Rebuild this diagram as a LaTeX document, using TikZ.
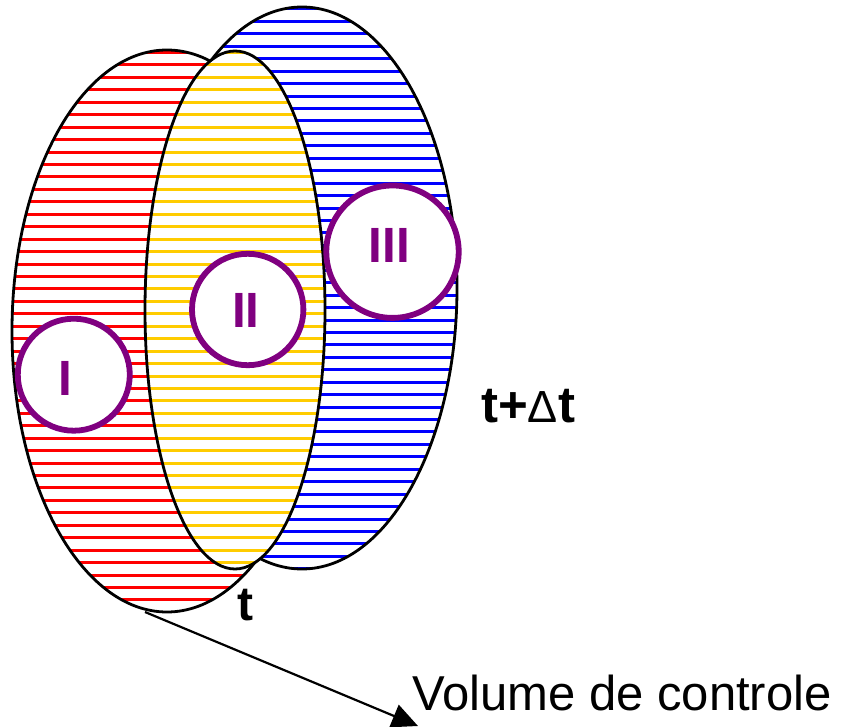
\documentclass[tikz,border=0pt]{standalone}
\usepackage{fontspec}
\setmainfont{Liberation Sans}
\usetikzlibrary{arrows.meta}
\definecolor{hyellow}{HTML}{FFCC00}
\definecolor{hpurple}{HTML}{800080}
\begin{document}
\begin{tikzpicture}[x=1pt,y=-1pt,
  outline/.style={draw=black,line width=2.8pt},
  hatch/.style={line width=3pt},
  ring/.style={draw=hpurple,line width=5.8pt,fill=white,circle,inner sep=0pt},
  numeral/.style={text=hpurple,font=\fontsize{49.5}{55}\selectfont\bfseries,inner sep=0pt},
  lbl/.style={inner sep=0pt,font=\fontsize{48}{55}\selectfont\bfseries}]
\path[use as bounding box, clip] (0,0) rectangle (843,727);
% blue ellipse (t + Delta t)
\fill[white] (302,288) ellipse [x radius=155, y radius=281];
\begin{scope}
  \clip (302,288) ellipse [x radius=155, y radius=281];
  \foreach \k in {-6,...,46} \draw[hatch,blue] (140,{71.2+12.44*\k}) -- (470,{71.2+12.44*\k});
\end{scope}
\draw[outline] (302,288) ellipse [x radius=155, y radius=281];
% red ellipse (t)
\fill[white] (167,331) ellipse [x radius=155, y radius=281];
\begin{scope}
  \clip (167,331) ellipse [x radius=155, y radius=281];
  \foreach \k in {-3,...,46} \draw[hatch,red] (0,{65+12.44*\k}) -- (330,{65+12.44*\k});
\end{scope}
\draw[outline] (167,331) ellipse [x radius=155, y radius=281];
% yellow ellipse (overlap)
\fill[white] (235,310) ellipse [x radius=90, y radius=259];
\begin{scope}
  \clip (235,310) ellipse [x radius=90, y radius=259];
  \foreach \k in {-3,...,43} \draw[hatch,hyellow] (140,{65+12.44*\k}) -- (330,{65+12.44*\k});
\end{scope}
\draw[outline] (235,310) ellipse [x radius=90, y radius=259];
% circles
\node[ring, minimum size=112pt] (c1) at (73.8,374.7) {};
\node[ring, minimum size=111.4pt] (c2) at (247.7,309.5) {};
\node[ring, minimum size=132.4pt] (c3) at (392.5,251.7) {};
\node[numeral] (n1) at (65.3,378.8) {I};
\node[numeral] (n2) at (245.8,310.5) {II};
\node[numeral] (n3) at (389.5,245.2) {III};
% labels
\node[lbl, anchor=base west] (tl) at (237,620) {t};
\node[lbl, anchor=base west, font=\fontsize{51}{55}\selectfont\bfseries] (tdt) at (481,422) {t+{\mdseries\fontsize{45}{50}\selectfont Δ}t};
\node[anchor=base west, inner sep=0pt, font=\fontsize{49}{55}\selectfont] (vc) at (412,710) {Volume de controle};
% arrow
\coordinate (a0) at (145,612);
\coordinate (a1) at (418,726);
\draw[line width=2.2pt, -{Triangle[length=26pt,width=24pt]}] (a0) -- (a1);
\end{tikzpicture}
\end{document}
